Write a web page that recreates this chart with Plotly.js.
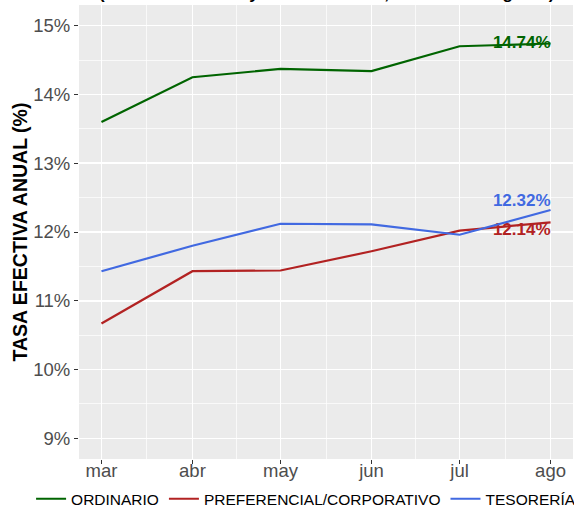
<!DOCTYPE html>
<html>
<head>
<meta charset="utf-8">
<script src="https://cdn.plot.ly/plotly-3.0.1.min.js"></script>
<style>
  html, body { margin: 0; padding: 0; background: #ffffff; }
  #chart { width: 574px; height: 513px; }
</style>
</head>
<body>
<div id="chart"></div>
<script>
// ---- Data ----
var months = ['2023-03-01', '2023-04-01', '2023-05-01', '2023-06-01', '2023-07-01', '2023-08-01'];
var monthLabels = ['mar', 'abr', 'may', 'jun', 'jul', 'ago'];

var ordinario    = [13.60, 14.25, 14.37, 14.34, 14.70, 14.74];
var preferencial = [10.67, 11.43, 11.44, 11.72, 12.02, 12.14];
var tesoreria    = [11.43, 11.80, 12.12, 12.11, 11.96, 12.32];

var seriesNames  = ['ORDINARIO', 'PREFERENCIAL/CORPORATIVO', 'TESORERÍA'];
var yTickVals    = [9, 10, 11, 12, 13, 14, 15];
var yTickText    = ['9%', '10%', '11%', '12%', '13%', '14%', '15%'];
var titleText    = '(Datos mensuales y montos totales, cifras hasta agosto)';
var yTitle       = 'TASA EFECTIVA ANUAL (%)';

// ---- Helpers ----
var FONT = 'Liberation Sans, Arial, Helvetica, sans-serif';
function lastLabel(arr) {
  return arr.map(function (v, i) { return i === arr.length - 1 ? v.toFixed(2) + '%' : ''; });
}
function ms(d) { return new Date(d + 'T00:00:00Z').getTime(); }
function iso(t) { return new Date(t).toISOString().slice(0, 19).replace('T', ' '); }

var t0 = ms(months[0]), t1 = ms(months[months.length - 1]);
var span = t1 - t0;
var xRange = [iso(t0 - 0.05 * span), iso(t1 + 0.05 * span)];
var minorX = [];
for (var i = 0; i < months.length - 1; i++) {
  minorX.push(iso((ms(months[i]) + ms(months[i + 1])) / 2));
}

function mk(name, y, color, pos) {
  return {
    type: 'scatter',
    mode: 'lines+text',
    name: name,
    x: months,
    y: y,
    text: lastLabel(y),
    textposition: pos,
    textfont: { family: FONT, size: 17, color: color, weight: 'bold' },
    cliponaxis: false,
    line: { color: color, width: 2.2 },
    hoverinfo: 'x+y+name'
  };
}

var traces = [
  mk(seriesNames[0], ordinario, '#006400', 'middle left'),
  mk(seriesNames[1], preferencial, '#B22222', 'bottom left'),
  mk(seriesNames[2], tesoreria, '#4169E1', 'top left')
];

var layout = {
  width: 574,
  height: 513,
  margin: { l: 79, r: 1, t: 5, b: 54, autoexpand: false },
  paper_bgcolor: '#ffffff',
  plot_bgcolor: '#ebebeb',
  font: { family: FONT, color: '#000000' },
  showlegend: true,
  legend: {
    orientation: 'h',
    x: -0.097, xanchor: 'left',
    y: -0.051, yanchor: 'top',
    font: { family: FONT, size: 15.5, color: '#000000' },
    bgcolor: 'rgba(0,0,0,0)',
    itemwidth: 30,
    traceorder: 'normal'
  },
  xaxis: {
    type: 'date',
    range: xRange,
    tickmode: 'array',
    tickvals: months,
    ticktext: monthLabels,
    ticks: 'outside',
    ticklen: 4,
    tickwidth: 1,
    tickcolor: '#333333',
    ticklabelstandoff: -9,
    tickfont: { family: FONT, size: 18.5, color: '#4d4d4d' },
    showgrid: true,
    gridcolor: '#ffffff',
    gridwidth: 1.5,
    minor: { tickmode: 'array', tickvals: minorX, showgrid: true, gridcolor: '#ffffff', gridwidth: 0.7, ticks: '' },
    zeroline: false,
    showline: false,
    fixedrange: true
  },
  yaxis: {
    range: [8.7, 15.3],
    tickmode: 'array',
    tickvals: yTickVals,
    ticktext: yTickText,
    ticks: 'outside',
    ticklen: 4,
    tickwidth: 1,
    tickcolor: '#333333',
    tickfont: { family: FONT, size: 18.5, color: '#4d4d4d' },
    showgrid: true,
    gridcolor: '#ffffff',
    gridwidth: 1.5,
    minor: { dtick: 0.5, tick0: 8.5, showgrid: true, gridcolor: '#ffffff', gridwidth: 0.7, ticks: '' },
    zeroline: false,
    showline: false,
    title: { text: yTitle, font: { family: FONT, size: 19.5, color: '#000000', weight: 'bold' }, standoff: 0 },
    fixedrange: true
  },
  annotations: [{
    text: titleText,
    xref: 'paper', yref: 'paper',
    x: 0.5, y: 1,
    xanchor: 'center', yanchor: 'bottom',
    showarrow: false,
    font: { family: FONT, size: 17, color: '#000000', weight: 'bold' }
  }]
};

Plotly.newPlot('chart', traces, layout, { displayModeBar: false, staticPlot: true });
</script>
</body>
</html>
